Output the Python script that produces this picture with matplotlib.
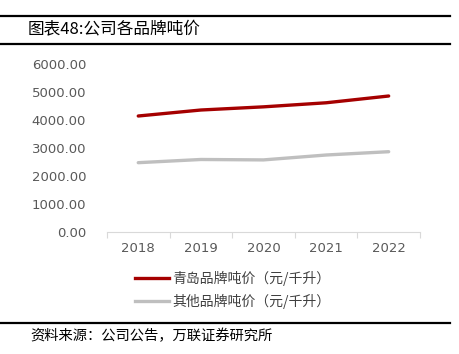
import matplotlib
matplotlib.use("Agg")
import matplotlib.pyplot as plt
from matplotlib.lines import Line2D

plt.rcParams['font.family'] = ['Noto Sans CJK SC', 'DejaVu Sans']

years = ["2018", "2019", "2020", "2021", "2022"]
qingdao = [4143, 4357, 4470, 4615, 4857]
others = [2476, 2590, 2575, 2750, 2868]
yticks = [0, 1000, 2000, 3000, 4000, 5000, 6000]
series_names = ["青岛品牌吨价（元/千升）", "其他品牌吨价（元/千升）"]
title = "图表48:公司各品牌吨价"
source = "资料来源：公司公告，万联证券研究所"

fig = plt.figure(figsize=(4.59, 3.54), dpi=100)
ax = fig.add_axes([0.233, 0.3446, 0.682, 0.4746])

x = list(range(len(years)))
ax.plot(x, qingdao, color="#A50000", lw=2.4, solid_capstyle="round")
ax.plot(x, others, color="#BFBFBF", lw=2.4, solid_capstyle="round")

ax.set_xlim(-0.5, len(years) - 0.5)
ax.set_ylim(0, 6000)
ax.set_yticks(yticks)
ax.set_yticklabels([f"{v:.2f}" for v in yticks], color="#595959", fontsize=9.5,
                   family=['DejaVu Sans'])
ax.set_xticks(x)
ax.set_xticklabels(years, color="#595959", fontsize=9.5, family=['DejaVu Sans'])
ax.set_xticks([i - 0.5 for i in range(len(years) + 1)], minor=True)
ax.tick_params(axis='x', which='major', length=0, pad=7)
ax.tick_params(axis='x', which='minor', length=4, color="#D9D9D9", width=0.8)
ax.tick_params(axis='y', length=0, pad=15)
for s in ["left", "right", "top"]:
    ax.spines[s].set_visible(False)
ax.spines["bottom"].set_color("#D9D9D9")
ax.spines["bottom"].set_linewidth(0.8)

handles = [Line2D([], [], color="#A50000", lw=2.4),
           Line2D([], [], color="#BFBFBF", lw=2.4)]
fig.legend(handles, series_names, loc="upper left", bbox_to_anchor=(0.272, 0.262),
           frameon=False, fontsize=10, handlelength=2.45, handletextpad=0.25,
           labelspacing=0.55, labelcolor="#404040", borderpad=0.2)

# header / footer rules
fig.add_artist(Line2D([0, 0.98], [1 - 16 / 354] * 2, color="black", lw=1.6))
fig.add_artist(Line2D([0, 0.98], [1 - 44 / 354] * 2, color="black", lw=1.6))
fig.add_artist(Line2D([0, 0.98], [1 - 323 / 354] * 2, color="black", lw=1.6))
fig.text(28 / 459, 1 - 30 / 354, title, fontsize=12, va="center", ha="left", color="black")
fig.text(30 / 459, 1 - 336 / 354, source, fontsize=10.3, va="center", ha="left", color="black")

fig.savefig("out.png", dpi=100)
